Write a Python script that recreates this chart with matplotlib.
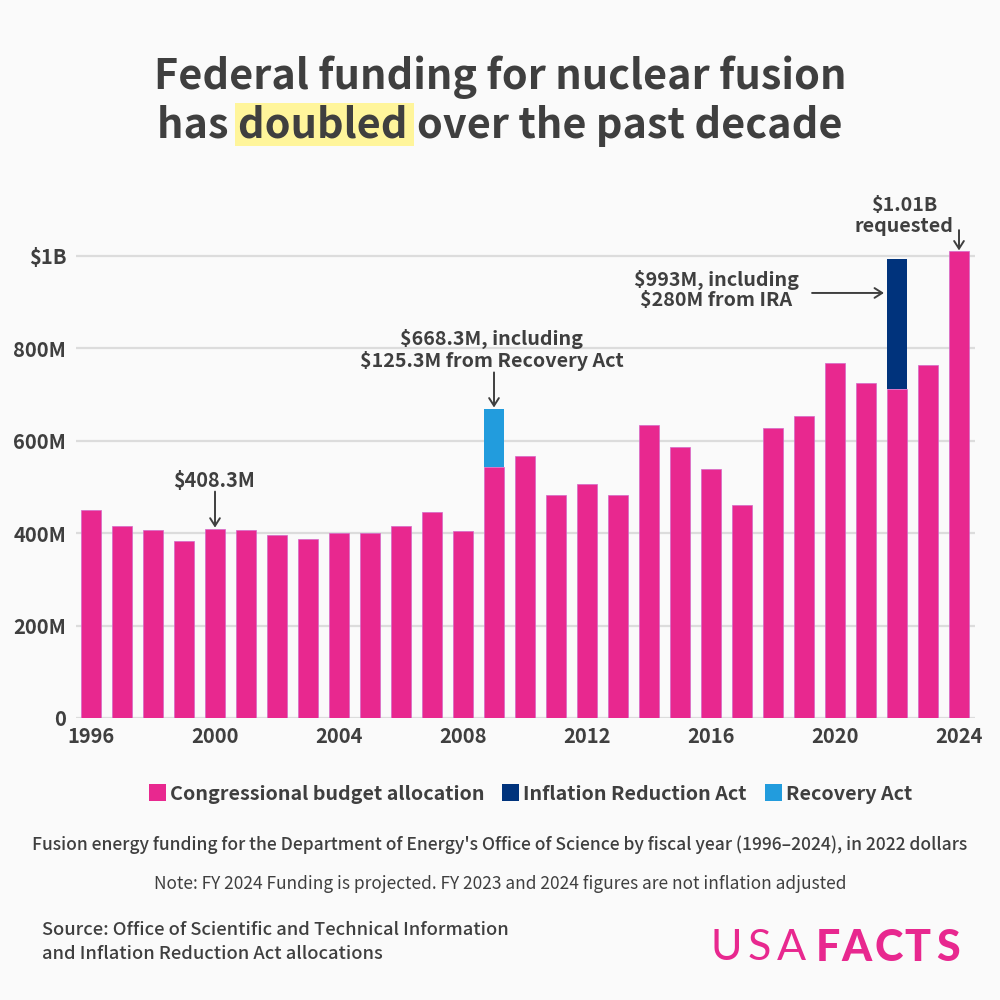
import matplotlib
matplotlib.use('Agg')
import matplotlib.pyplot as plt
from matplotlib.patches import Rectangle
import numpy as np

plt.rcParams['font.family'] = ['Noto Sans CJK JP', 'DejaVu Sans']

# data, in millions
years = list(range(1996, 2025))
congress = [450, 415, 406, 384, 408.3, 406, 397, 388, 400, 400, 415, 445, 405, 543, 568,
            483, 506, 482, 634, 587, 540, 460, 627, 654, 768, 725, 713, 763, 1010]
ira = [0]*26 + [280, 0, 0]
recovery = [0]*13 + [125.3] + [0]*15
yticks = [0, 200, 400, 600, 800, 1000]
ylabels = ['0', '200M', '400M', '600M', '800M', '$1B']
xticks = list(range(1996, 2025, 4))

PINK = '#e8288f'
NAVY = '#00337c'
BLUE = '#229cdd'
DARK = '#3f3f3f'
BG = '#fafafa'

fig = plt.figure(figsize=(10, 10), dpi=100, facecolor=BG)

def ftext(x, y, s, **kw):
    # x, y in pixels from top left
    kw.setdefault('color', DARK)
    kw.setdefault('ha', 'center')
    kw.setdefault('va', 'center')
    return fig.text(x/1000, 1 - y/1000, s, **kw)

# highlight behind "doubled"
fig.add_artist(Rectangle((235/1000, 1 - 146/1000), 179/1000, 43/1000,
                         transform=fig.transFigure, color='#fff59b', lw=0))

ftext(500, 77, 'Federal funding for nuclear fusion', fontsize=29.8, fontweight='bold')
ftext(500, 126, 'has doubled over the past decade', fontsize=29.8, fontweight='bold')

# axes: 0 at y=718, 1B at y=256
ax = fig.add_axes([76/1000, 1 - 718/1000, 899/1000, 462/1000 * 1.1])
ax.set_facecolor('none')
ax.set_xlim(1995.516, 2024.516)
ax.set_ylim(0, 1100)

congress = np.array(congress)
ira = np.array(ira)
recovery = np.array(recovery)
ax.bar(years, congress, width=0.63, color=PINK, edgecolor='#d468c8', lw=0.5, zorder=3)
ax.bar(years, ira, width=0.63, bottom=congress, color=NAVY, zorder=3)
ax.bar(years, recovery, width=0.63, bottom=congress, color=BLUE, zorder=3)

ax.set_yticks(yticks)
ax.set_yticklabels(ylabels)
ax.set_xticks(xticks)
ax.grid(axis='y', color='#dcdcdc', lw=1.6, zorder=0)
ax.grid(axis='x', visible=False)
ax.tick_params(length=0, labelsize=14.5, labelcolor=DARK, pad=6)
ax.tick_params(axis='y', pad=7)
for lab in ax.get_xticklabels() + ax.get_yticklabels():
    lab.set_fontweight('bold')
for s in ax.spines.values():
    s.set_visible(False)

# annotations
arrow = dict(arrowstyle='->,head_width=0.35,head_length=0.55', color=DARK, lw=1.4,
             shrinkA=0, shrinkB=0)
ax.annotate('', xy=(2000, 412), xytext=(2000, 490), arrowprops=arrow)
ax.annotate('', xy=(2009, 672), xytext=(2009, 748), arrowprops=arrow)
ax.annotate('', xy=(2021.58, 920), xytext=(2019.26, 920), arrowprops=arrow)
ax.annotate('', xy=(2024, 1012), xytext=(2024, 1056), arrowprops=arrow)

ftext(214, 481, '$408.3M', fontsize=14.3, fontweight='bold')
ftext(492, 350, '$668.3M, including\n$125.3M from Recovery Act', fontsize=14.2,
      fontweight='bold', linespacing=1.12)
ftext(716, 290, '$993M, including\n$280M from IRA', fontsize=14.2, fontweight='bold',
      linespacing=1.12)
ftext(904, 216, '$1.01B\nrequested', fontsize=14.2, fontweight='bold', linespacing=1.12)

# legend
for x0, col in [(149, PINK), (502, NAVY), (765, BLUE)]:
    fig.add_artist(Rectangle((x0/1000, 1 - 801/1000), 17/1000, 17/1000,
                             transform=fig.transFigure, color=col, lw=0))
ftext(170, 794, 'Congressional budget allocation', ha='left', fontsize=14.2, fontweight='bold')
ftext(523, 794, 'Inflation Reduction Act', ha='left', fontsize=14.2, fontweight='bold')
ftext(786, 794, 'Recovery Act', ha='left', fontsize=14.2, fontweight='bold')

# notes
ftext(500, 845, "Fusion energy funding for the Department of Energy's Office of Science by fiscal year (1996–2024), in 2022 dollars",
      fontsize=12.55, fontweight='medium')
ftext(500, 884, 'Note: FY 2024 Funding is projected. FY 2023 and 2024 figures are not inflation adjusted',
      fontsize=12.45)
ftext(42, 942, 'Source: Office of Scientific and Technical Information\nand Inflation Reduction Act allocations',
      ha='left', fontsize=13.2, fontweight='medium', linespacing=1.44)

# logo, letter by letter to get the wide tracking
for cx, ch in zip([726, 759.5, 791], 'USA'):
    ftext(cx, 948, ch, fontsize=31, color=PINK, family='Lato', fontweight='regular')
for cx, ch in zip([828, 856.7, 888.7, 917.5, 948], 'FACTS'):
    ftext(cx, 948, ch, fontsize=31, color=PINK, family='Lato', fontweight='black')

fig.savefig('out.png', dpi=100, facecolor=BG)
